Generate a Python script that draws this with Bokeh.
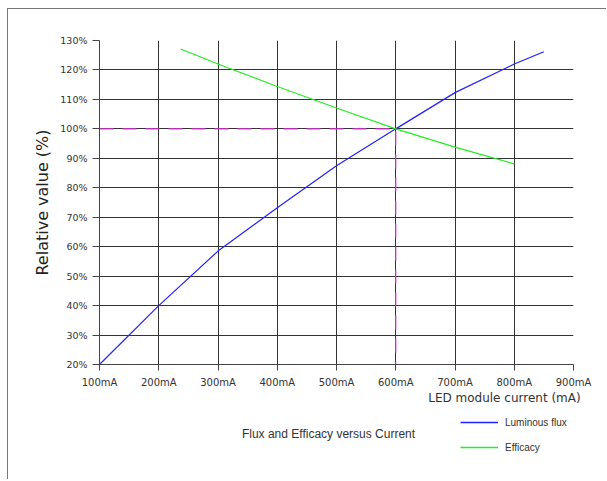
from bokeh.plotting import figure
from bokeh.layouts import column, row
from bokeh.models import Range1d, FixedTicker, Label, Legend, LegendItem
from bokeh.embed import file_html
from bokeh.resources import INLINE

# ---- data ----
x_ticks = [100, 200, 300, 400, 500, 600, 700, 800, 900]
x_tick_labels = ["100mA", "200mA", "300mA", "400mA", "500mA", "600mA", "700mA", "800mA", "900mA"]
y_ticks = [20, 30, 40, 50, 60, 70, 80, 90, 100, 110, 120, 130]
y_tick_labels = ["20%", "30%", "40%", "50%", "60%", "70%", "80%", "90%", "100%", "110%", "120%", "130%"]

flux_current = [100, 200, 300, 400, 500, 600, 700, 800, 850]
flux_value = [20, 40, 58.5, 73.2, 87.5, 100, 112.3, 122, 126.2]

eff_current = [237, 300, 400, 500, 600, 700, 800]
eff_value = [127.1, 122, 114.4, 107.1, 100, 93.8, 88.1]

ref_current = [100, 600, 600]
ref_value = [100, 100, 20]

series_names = ["Luminous flux", "Efficacy"]
series_colors = ["#2222ff", "#22ee22"]

W = 598


def blank(width, height, x_range=None, y_range=None, top=0):
    f = figure(width=width, height=height, output_backend="svg", toolbar_location=None,
               x_range=x_range or Range1d(0, width), y_range=y_range or Range1d(height, 0),
               min_border_left=0, min_border_right=0, min_border_top=top, min_border_bottom=0)
    f.axis.visible = False
    f.grid.visible = False
    f.outline_line_color = None
    return f


# ---- main chart ----
p = figure(width=W, height=381, output_backend="svg", toolbar_location=None,
           x_range=Range1d(100, 900), y_range=Range1d(20, 130),
           min_border_left=91, min_border_top=31, min_border_right=W - 91 - 474, min_border_bottom=26)
p.outline_line_color = None

for ax, ticks, labels in ((p.xaxis[0], x_ticks, x_tick_labels), (p.yaxis[0], y_ticks, y_tick_labels)):
    ax.ticker = FixedTicker(ticks=ticks)
    ax.major_label_overrides = {t: l for t, l in zip(ticks, labels)}
    ax.minor_tick_line_color = None
    ax.major_tick_in = 0
    ax.axis_line_color = "#444444"
    ax.major_tick_line_color = "#444444"
    ax.major_label_text_color = "#333333"
    ax.major_label_text_font = "DejaVu Sans"

p.xaxis.major_tick_out = 6
p.xaxis.major_label_standoff = 6
p.xaxis.major_label_text_font_size = "10px"
p.yaxis.major_tick_out = 7
p.yaxis.major_label_standoff = 5
p.yaxis.major_label_text_font_size = "9.5px"
p.yaxis.axis_label = "Relative value (%)"
p.yaxis.axis_label_text_font = "DejaVu Sans"
p.yaxis.axis_label_text_font_size = "16px"
p.yaxis.axis_label_text_font_style = "normal"
p.yaxis.axis_label_text_color = "#222222"
p.yaxis.axis_label_standoff = 5

p.xgrid.ticker = FixedTicker(ticks=x_ticks)
p.ygrid.ticker = FixedTicker(ticks=y_ticks)
for g in (p.xgrid[0], p.ygrid[0]):
    g.grid_line_color = "#333333"
    g.grid_line_alpha = 1.0
    g.grid_line_width = 1

p.line(ref_current, ref_value, line_color="#dd33dd", line_width=1.2, line_dash="14 9")
p.line(flux_current, flux_value, line_color=series_colors[0], line_width=1.2)
p.line(eff_current, eff_value, line_color=series_colors[1], line_width=1.2)

# ---- strip with the x axis title ----
p2 = blank(W, 20)
p2.add_layout(Label(x=576, y=7, text="LED module current  (mA)",
                    text_align="right", text_baseline="middle",
                    text_font="DejaVu Sans", text_font_size="12px", text_color="#333333"))

# ---- chart title ----
p3 = blank(452, 69)
p3.add_layout(Label(x=320, y=19, text="Flux and Efficacy versus Current",
                    text_align="center", text_baseline="middle",
                    text_font="Liberation Sans", text_font_size="12px", text_color="#333333"))

# ---- legend (its sample lines carry the series data, which lies outside this strip's ranges) ----
p4 = blank(W - 452, 69, x_range=Range1d(0, 1), y_range=Range1d(0, 1), top=6)
legend_renderers = [p4.line(flux_current, flux_value, line_color=series_colors[0], line_width=1.3),
                    p4.line(eff_current, eff_value, line_color=series_colors[1], line_width=1.3)]
legend = Legend(items=[LegendItem(label=n, renderers=[r]) for n, r in zip(series_names, legend_renderers)],
                location="top_left", orientation="vertical",
                glyph_width=38, glyph_height=12, label_height=12, spacing=13,
                label_standoff=7, padding=0, margin=0,
                label_text_font="Liberation Sans", label_text_font_size="10px",
                label_text_color="#333333",
                border_line_color=None, background_fill_alpha=0)
p4.add_layout(legend, "center")

layout = column(p, row(p2, spacing=0), row(p3, p4, spacing=0), spacing=0)
layout.styles = {"margin-left": "7px", "margin-top": "8px",
                 "border-top": "1px solid #777777", "border-left": "1px solid #777777"}

open("out.html", "w").write(file_html(layout, INLINE))
